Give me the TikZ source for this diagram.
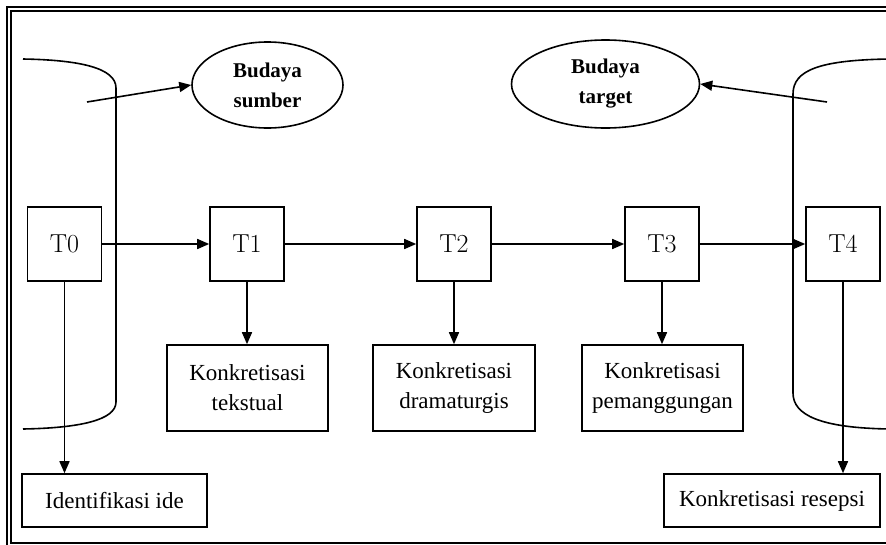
\documentclass[tikz,border=0pt]{standalone}
\usepackage{fontspec}
\newfontfamily\garfont{Liberation Serif}
\usetikzlibrary{shapes.geometric,arrows.meta}
\begin{document}
\begin{tikzpicture}[x=1pt,y=-1pt,line width=1.6pt,
  >={Triangle[length=12pt,width=10pt]},
  tbox/.style={draw,minimum width=74pt,minimum height=74pt,inner sep=0pt,
    font=\fontsize{26}{30}\selectfont},
  kbox/.style={draw,inner sep=0pt,align=center,
    font=\garfont\fontsize{23}{30}\selectfont},
  culture/.style={draw,ellipse,inner sep=0pt,align=center,
    font=\garfont\bfseries\fontsize{21}{30}\selectfont},
  bracket/.style={line width=1.6pt}]
\useasboundingbox (0,0) rectangle (886,544);
\begin{scope}
\clip (0,0) rectangle (886,544);
% double outer frame
\draw (7,7) rectangle (892,550);
\draw (11,11) rectangle (889,543);
% source and target side brackets
\draw[bracket] (23,59) .. controls (80,60) and (116,68) .. (116,88) -- (116,402)
  .. controls (116,420) and (80,428) .. (23,429);
\draw[bracket] (890,59) .. controls (820,60) and (793,70) .. (793,94) -- (793,393)
  .. controls (793,415) and (820,428) .. (890,429);
\end{scope}

% cultures
\node[culture,minimum width=151pt,minimum height=86pt] (src) at (267.5,85) {Budaya\\sumber};
\node[culture,minimum width=188pt,minimum height=88pt] (tgt) at (605.5,84) {Budaya\\target};

% text stages
\node[tbox] (t0) at (64.5,244) {T0};
\node[tbox] (t1) at (247,244) {T1};
\node[tbox] (t2) at (454,244) {T2};
\node[tbox] (t3) at (662,244) {T3};
\node[tbox] (t4) at (843,244) {T4};

% concretisations
\node[kbox,minimum width=185pt,minimum height=53pt] (idf) at (114.5,500.5) {Identifikasi ide};
\node[kbox,minimum width=161pt,minimum height=86pt] (k1) at (247.5,388) {Konkretisasi\\tekstual};
\node[kbox,minimum width=162pt,minimum height=86pt] (k2) at (454,388) {Konkretisasi\\dramaturgis};
\node[kbox,minimum width=161pt,minimum height=86pt] (k3) at (662.5,388) {Konkretisasi\\pemanggungan};
\node[kbox,minimum width=216pt,minimum height=53pt] (res) at (772,500.5) {Konkretisasi resepsi};

% free ends of the culture arrows
\coordinate (srcfrom) at (87,102);
\coordinate (tgtfrom) at (827,102);

\draw[->] (srcfrom) -- (src.west);
\draw[->] (tgtfrom) -- (tgt.east);

\draw[->] (t0) -- (t1);
\draw[->] (t1) -- (t2);
\draw[->] (t2) -- (t3);
\draw[->] (t3) -- (t4);

\draw[->] (t0.south) -- (t0.south |- idf.north);
\draw[->] (t1.south) -- (t1.south |- k1.north);
\draw[->] (t2.south) -- (t2.south |- k2.north);
\draw[->] (t3.south) -- (t3.south |- k3.north);
\draw[->] (t4.south) -- (t4.south |- res.north);
\end{tikzpicture}
\end{document}
